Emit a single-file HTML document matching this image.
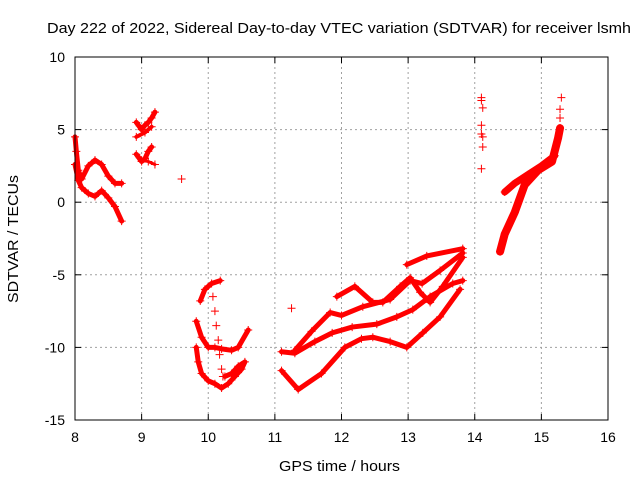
<!DOCTYPE html>
<html><head><meta charset="utf-8"><style>
body{margin:0;background:#fff}
svg{display:block;font-family:"Liberation Sans",sans-serif}
</style></head><body>
<svg id="chart" width="640" height="480" viewBox="0 0 640 480">
<text x="47" y="33" font-size="15" textLength="584" lengthAdjust="spacingAndGlyphs">Day 222 of 2022, Sidereal Day-to-day VTEC variation (SDTVAR) for receiver lsmh</text>
<text x="279" y="471" font-size="15" textLength="121" lengthAdjust="spacingAndGlyphs">GPS time / hours</text>
<text transform="translate(18,303) rotate(-90)" font-size="15" textLength="128" lengthAdjust="spacingAndGlyphs">SDTVAR / TECUs</text>
<g id="grid"></g><g id="marks"></g><g id="axes"></g>
</svg>
<script>
const xTicks=[8,9,10,11,12,13,14,15,16];
const yTicks=[-15,-10,-5,0,5,10];
const trackA=[[8.0,4.5],[8.02,3.5],[8.05,2.2],[8.1,1.6],[8.2,2.5],[8.3,2.9],[8.4,2.6],[8.5,1.8],[8.6,1.3],[8.7,1.3]];
const trackB=[[8.0,2.6],[8.05,1.5],[8.1,1.0],[8.2,0.6],[8.3,0.4],[8.4,0.8],[8.5,0.3],[8.6,-0.3],[8.7,-1.3]];
const trackC=[[8.92,5.5],[9.0,5.0],[9.05,5.3],[9.1,5.5],[9.15,5.8],[9.2,6.2]];
const trackD=[[8.92,4.5],[9.05,4.8],[9.15,5.2]];
const trackE=[[8.92,3.3],[9.0,2.8],[9.05,3.0],[9.1,3.5],[9.15,3.8]];
const trackF=[[9.0,2.9],[9.1,2.8],[9.2,2.6]];
const trackG=[[9.6,1.6]];
const trackH=[[9.82,-8.2],[9.9,-9.3],[10.0,-10.0],[10.1,-10.0],[10.2,-10.1],[10.35,-10.2],[10.45,-10.0],[10.6,-8.8]];
const trackI=[[9.88,-6.8],[9.95,-6.0],[10.05,-5.6],[10.18,-5.4]];
const trackJ=[[10.07,-6.5],[10.1,-7.5],[10.12,-8.5],[10.15,-9.5],[10.17,-10.5],[10.2,-11.5],[10.22,-12.0]];
const trackK=[[9.82,-10.0],[9.85,-11.0],[9.9,-11.8],[10.0,-12.3],[10.1,-12.5],[10.2,-12.8],[10.3,-12.5],[10.4,-12.0],[10.5,-11.5],[10.55,-11.0],[10.45,-11.3],[10.35,-11.8],[10.25,-12.0]];
const trackL=[[11.25,-7.3]];
const trackS1=[[12.98,-4.3],[13.28,-3.7],[13.82,-3.2]];
const trackS2=[[11.93,-6.5],[12.2,-5.8],[12.47,-6.9],[12.62,-6.9],[12.88,-5.8],[13.03,-5.2],[13.18,-6.2],[13.33,-6.9],[13.52,-5.8],[13.82,-3.8]];
const trackS3=[[11.3,-10.2],[11.55,-8.9],[11.83,-7.6],[12.0,-7.8],[12.32,-7.2],[12.73,-6.7],[13.03,-5.4],[13.21,-5.6],[13.48,-4.7],[13.82,-3.5]];
const trackS4=[[11.1,-10.3],[11.3,-10.4],[11.6,-9.6],[11.86,-9.0],[12.16,-8.6],[12.53,-8.4],[12.83,-7.9],[13.07,-7.4],[13.33,-6.5],[13.67,-5.6],[13.82,-5.4]];
const trackS5=[[11.1,-11.6],[11.35,-12.9],[11.7,-11.8],[12.05,-10.0],[12.3,-9.4],[12.47,-9.3],[12.73,-9.6],[12.98,-10.0],[13.22,-9.0],[13.48,-7.9],[13.78,-6.0]];
const trackM=[[14.1,7.2],[14.1,7.0],[14.12,6.5],[14.1,5.3],[14.1,4.7],[14.12,4.5],[14.12,3.8],[14.1,2.3]];
const trackN=[[14.38,-3.4],[14.45,-2.2],[14.6,-0.7],[14.75,1.2],[14.95,2.2],[15.16,2.8],[15.25,4.4],[15.28,5.1]];
const trackO=[[14.45,0.7],[14.6,1.3],[14.8,1.9],[15.0,2.5],[15.2,3.2]];
const trackP=[[15.28,5.8],[15.28,6.4],[15.3,7.2]];
const tracks=[trackA,trackB,trackC,trackD,trackE,trackF,trackG,trackH,trackI,trackJ,trackK,trackL,trackS1,trackS2,trackS3,trackS4,trackS5,trackM,trackN,trackO,trackP];
const thick=[5,5,5,4,5,3,0,5,5,0,5,0,5,5,5,5,5,0,8,7,0];
const L=75,R=608,T=57,B=420;
const sx=v=>L+(v-8)/8*(R-L);
const sy=v=>B-(v+15)/25*(B-T);
const NS="http://www.w3.org/2000/svg";
function mk(tag,attrs,parent){const e=document.createElementNS(NS,tag);for(const k in attrs)e.setAttribute(k,attrs[k]);parent.appendChild(e);return e;}
const grid=document.getElementById('grid'),marks=document.getElementById('marks'),axes=document.getElementById('axes');
xTicks.forEach(t=>{
  if(t>8&&t<16){const g=mk('line',{x1:sx(t),x2:sx(t),y1:T,y2:B,stroke:'#a0a0a0','stroke-dasharray':'2,3'},grid);
  
  }
  const tk=mk('line',{x1:sx(t),x2:sx(t),y1:B,y2:B-6,stroke:'#000'},axes);
  
  
  const tk2=mk('line',{x1:sx(t),x2:sx(t),y1:T,y2:T+6,stroke:'#000'},axes);
  
  
  const lb=mk('text',{x:sx(t),y:B+22,'font-size':14,'text-anchor':'middle'},axes);lb.textContent=t;
  
  
});
yTicks.forEach(t=>{
  if(t>-15&&t<10){const g=mk('line',{x1:L,x2:R,y1:sy(t),y2:sy(t),stroke:'#a0a0a0','stroke-dasharray':'2,3'},grid);
  
  }
  const tk=mk('line',{x1:L,x2:L+6,y1:sy(t),y2:sy(t),stroke:'#000'},axes);
  
  
  const tk2=mk('line',{x1:R,x2:R-6,y1:sy(t),y2:sy(t),stroke:'#000'},axes);
  
  
  const lb=mk('text',{x:L-10,y:sy(t)+5,'font-size':14,'text-anchor':'end'},axes);lb.textContent=t;
  
  
});
const frame=mk('rect',{x:L,y:T,width:R-L,height:B-T,fill:'none',stroke:'#000'},axes);


tracks.forEach((tr,i)=>{
  if(thick[i]>0&&tr.length>1){
    const pl=mk('polyline',{points:tr.map(p=>sx(p[0])+','+sy(p[1])).join(' '),fill:'none',stroke:'#f00','stroke-width':thick[i],'stroke-linejoin':'round','stroke-linecap':'round'},marks);
    
    
  }
  tr.forEach(p=>{
    const x=sx(p[0]),y=sy(p[1]);
    const m=mk('path',{d:`M${x-4},${y}H${x+4}M${x},${y-4}V${y+4}`,stroke:'#f00','stroke-width':1},marks);
    
    
  });
});
</script>
</body></html>
